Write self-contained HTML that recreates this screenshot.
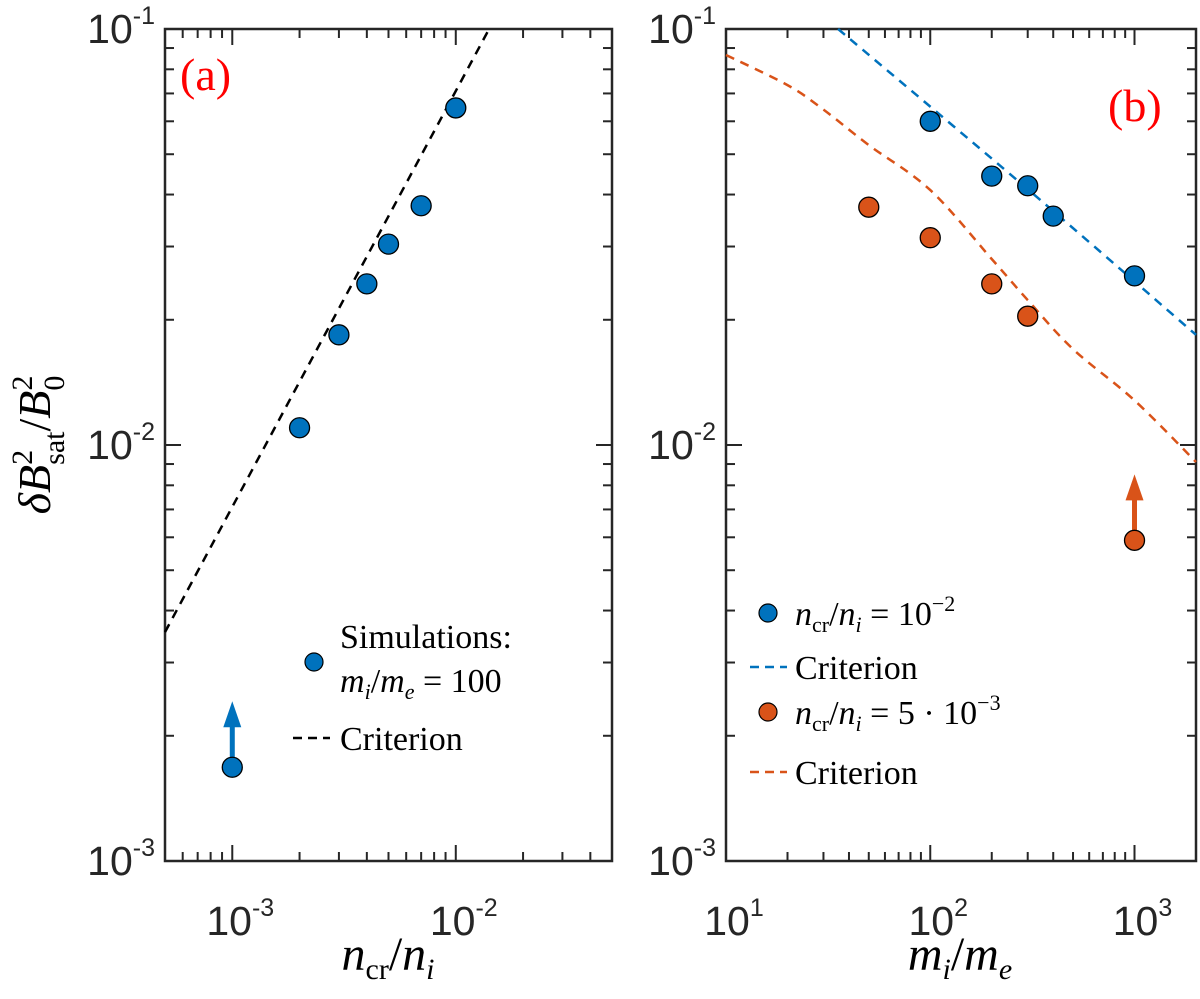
<!DOCTYPE html>
<html><head><meta charset="utf-8"><style>
html,body{margin:0;padding:0;background:#fff;}
svg{display:block;}
.tl{font-family:"Liberation Sans",sans-serif;font-size:41px;fill:#262626;}
.sup{font-size:25px;}
.m{font-family:"Liberation Serif",serif;font-size:34px;fill:#000;}
</style></head><body>
<svg id="fig" width="1200" height="999" viewBox="0 0 1200 999" xmlns="http://www.w3.org/2000/svg">
<text class="m" transform="translate(50,445) rotate(-90)" text-anchor="middle" style="font-size:46px"><tspan font-style="italic">δB</tspan><tspan font-size="30" dy="-18">2</tspan><tspan font-size="30" dx="-15" dy="32">sat</tspan><tspan dy="-14">/</tspan><tspan font-style="italic">B</tspan><tspan font-size="30" dy="-18">2</tspan><tspan font-size="30" dx="-15" dy="32">0</tspan></text>
<text class="m" x="388" y="970" text-anchor="middle" style="font-size:48px"><tspan font-style="italic">n</tspan><tspan font-size="30" dy="9">cr</tspan><tspan dy="-9">/</tspan><tspan font-style="italic">n</tspan><tspan font-size="30" font-style="italic" dy="9">i</tspan></text>
<text class="m" x="960" y="970" text-anchor="middle" style="font-size:48px"><tspan font-style="italic">m</tspan><tspan font-size="30" font-style="italic" dy="9">i</tspan><tspan dy="-9">/</tspan><tspan font-style="italic">m</tspan><tspan font-size="30" font-style="italic" dy="9">e</tspan></text>
<text class="m" x="180" y="90" style="fill:#f00;font-size:46px">(a)</text>
<text class="m" x="1108" y="121" style="fill:#f00;font-size:46px">(b)</text>
<circle cx="314" cy="662" r="9" fill="#0072BD" stroke="#000" stroke-width="1.2"/>
<text class="m" x="340" y="648">Simulations:</text>
<text class="m" x="340" y="692"><tspan font-style="italic">m</tspan><tspan font-size="22" font-style="italic" dy="7">i</tspan><tspan dy="-7">/</tspan><tspan font-style="italic">m</tspan><tspan font-size="22" font-style="italic" dy="7">e</tspan><tspan dy="-7"> = 100</tspan></text>
<line x1="293" y1="738" x2="330" y2="738" stroke="#000" stroke-width="2.5" stroke-dasharray="9,6"/>
<text class="m" x="340" y="750">Criterion</text>
<circle cx="768" cy="613" r="9" fill="#0072BD" stroke="#000" stroke-width="1.2"/>
<text class="m" x="795" y="625"><tspan font-style="italic">n</tspan><tspan font-size="22" dy="7">cr</tspan><tspan dy="-7">/</tspan><tspan font-style="italic">n</tspan><tspan font-size="22" font-style="italic" dy="7">i</tspan><tspan dy="-7"> = 10</tspan><tspan font-size="22" dy="-14">−2</tspan></text>
<line x1="750" y1="667" x2="787" y2="667" stroke="#0072BD" stroke-width="2.5" stroke-dasharray="9,6"/>
<text class="m" x="795" y="679">Criterion</text>
<circle cx="768" cy="712" r="9" fill="#D95319" stroke="#000" stroke-width="1.2"/>
<text class="m" x="795" y="724"><tspan font-style="italic">n</tspan><tspan font-size="22" dy="7">cr</tspan><tspan dy="-7">/</tspan><tspan font-style="italic">n</tspan><tspan font-size="22" font-style="italic" dy="7">i</tspan><tspan dy="-7"> = 5 · 10</tspan><tspan font-size="22" dy="-14">−3</tspan></text>
<line x1="750" y1="772" x2="787" y2="772" stroke="#D95319" stroke-width="2.5" stroke-dasharray="9,6"/>
<text class="m" x="795" y="784">Criterion</text>
</svg>
<script>
// Panel (a) data
const aSimX = [2e-3, 3e-3, 4e-3, 5e-3, 7e-3, 1e-2];
const aSimY = [0.011, 0.0184, 0.0244, 0.0304, 0.0376, 0.0646];
const aLowX = [1e-3];
const aLowY = [0.00168];
const aCritX = [5e-4, 1.41e-2];
const aCritY = [3.55e-3, 0.1];
// Panel (b) data
const bBlueX = [100, 200, 300, 400, 1000];
const bBlueY = [0.06, 0.0443, 0.042, 0.0355, 0.0255];
const bOrangeX = [50, 100, 200, 300];
const bOrangeY = [0.0373, 0.0315, 0.0244, 0.0204];
const bOrangeLowX = [1000];
const bOrangeLowY = [0.0059];
const bBlueCritX = [35.4, 300, 2000];
const bBlueCritY = [0.1, 0.0412, 0.0184];
const bOrangeCritX = [10, 20, 30, 50, 100, 200, 300, 500, 1000, 2000];
const bOrangeCritY = [0.0866, 0.0733, 0.064, 0.0526, 0.041, 0.028, 0.0223, 0.017, 0.0128, 0.0091];
const yTickLabels = ["-3", "-2", "-1"];
const aXTickLabels = ["-3", "-2"];
const bXTickLabels = ["1", "2", "3"];

const NS = "http://www.w3.org/2000/svg";
const svg = document.getElementById('fig');
const TOP = 29, BOT = 861;
const yMin = -3, yMax = -1;
function Y(v){ return BOT - (Math.log10(v) - yMin) / (yMax - yMin) * (BOT - TOP); }
const pa = {l:165, r:612, xmin:Math.log10(5e-4), xmax:Math.log10(5e-2)};
const pb = {l:726, r:1196, xmin:1, xmax:Math.log10(2000)};
function X(p, v){ return p.l + (Math.log10(v) - p.xmin) / (p.xmax - p.xmin) * (p.r - p.l); }
function mk(tag, attrs){ const e = document.createElementNS(NS, tag); for (const k in attrs) e.setAttribute(k, attrs[k]); svg.appendChild(e); return e; }

function axes(p, key, xLabels){
  const box = mk('rect', {x:p.l, y:TOP, width:p.r-p.l, height:BOT-TOP, fill:'none', stroke:'#262626', 'stroke-width':2.5});
  
  
  for (let d = yMin; d <= yMax; d++){
    for (let m = 1; m <= 9; m++){
      const v = m * Math.pow(10, d);
      if (Math.log10(v) > yMax + 1e-9) break;
      const y = Y(v), len = m === 1 ? 16 : 9;
      const t1 = mk('line', {x1:p.l, y1:y, x2:p.l+len, y2:y, stroke:'#262626', 'stroke-width':2});
      
      
      const t2 = mk('line', {x1:p.r, y1:y, x2:p.r-len, y2:y, stroke:'#262626', 'stroke-width':2});
      
      
    }
  }
  yTickLabels.forEach(function(s){
    const y = Y(Math.pow(10, +s));
    const t = mk('text', {x:p.l-10, y:y+14, 'text-anchor':'end', class:'tl'});
    
    
    t.innerHTML = '10<tspan class="sup" dy="-19">' + s + '</tspan>';
  });
  for (let d = Math.floor(p.xmin); d <= Math.ceil(p.xmax); d++){
    for (let m = 1; m <= 9; m++){
      const lv = Math.log10(m) + d;
      if (lv < p.xmin - 1e-9 || lv > p.xmax + 1e-9) continue;
      const x = X(p, Math.pow(10, lv)), len = m === 1 ? 16 : 9;
      const t1 = mk('line', {x1:x, y1:BOT, x2:x, y2:BOT-len, stroke:'#262626', 'stroke-width':2});
      
      
      const t2 = mk('line', {x1:x, y1:TOP, x2:x, y2:TOP+len, stroke:'#262626', 'stroke-width':2});
      
      
    }
  }
  xLabels.forEach(function(s){
    const x = X(p, Math.pow(10, +s));
    const t = mk('text', {x:x+8, y:BOT+74, 'text-anchor':'middle', class:'tl'});
    
    
    t.innerHTML = '10<tspan class="sup" dy="-19">' + s + '</tspan>';
  });
}
axes(pa, 'a', aXTickLabels);
axes(pb, 'b', bXTickLabels);

function dashLine(p, xs, ys, color, name){
  const pts = xs.map(function(x, i){ return [X(p, x), Y(ys[i])]; });
  let d = 'M' + pts[0][0].toFixed(1) + ',' + pts[0][1].toFixed(1);
  for (let i = 0; i < pts.length - 1; i++){
    const p0 = pts[Math.max(i-1, 0)], p1 = pts[i], p2 = pts[i+1], p3 = pts[Math.min(i+2, pts.length-1)];
    const c1 = [p1[0] + (p2[0]-p0[0])/6, p1[1] + (p2[1]-p0[1])/6];
    const c2 = [p2[0] - (p3[0]-p1[0])/6, p2[1] - (p3[1]-p1[1])/6];
    d += 'C' + c1.map(v=>v.toFixed(1)).join(',') + ' ' + c2.map(v=>v.toFixed(1)).join(',') + ' ' + p2.map(v=>v.toFixed(1)).join(',');
  }
  const e = mk('path', {d:d, fill:'none', stroke:color, 'stroke-width':2.5, 'stroke-dasharray':'9,7'});
  
  
}
function dots(p, xs, ys, color, name){
  for (let i = 0; i < xs.length; i++){
    const c = mk('circle', {cx:X(p, xs[i]), cy:Y(ys[i]), r:10, fill:color, stroke:'#000', 'stroke-width':1.3});
    
    
  }
}
function arrows(p, xs, ys, color, name){
  for (let i = 0; i < xs.length; i++){
    const x = X(p, xs[i]), y = Y(ys[i]);
    const l = mk('line', {x1:x, y1:y-8, x2:x, y2:y-42, stroke:color, 'stroke-width':5});
    
    
    const h = mk('polygon', {points:(x-9)+','+(y-40)+' '+(x+9)+','+(y-40)+' '+x+','+(y-66), fill:color});
    
    
  }
}
dashLine(pa, aCritX, aCritY, '#000', 'criterion-line-a');
arrows(pa, aLowX, aLowY, '#0072BD', 'lower-bound-arrow-a');
dots(pa, aSimX, aSimY, '#0072BD', 'simulation-point-a');
dots(pa, aLowX, aLowY, '#0072BD', 'lower-bound-point-a');
dashLine(pb, bBlueCritX, bBlueCritY, '#0072BD', 'criterion-line-blue');
dashLine(pb, bOrangeCritX, bOrangeCritY, '#D95319', 'criterion-line-orange');
arrows(pb, bOrangeLowX, bOrangeLowY, '#D95319', 'lower-bound-arrow-b');
dots(pb, bBlueX, bBlueY, '#0072BD', 'simulation-point-blue');
dots(pb, bOrangeX, bOrangeY, '#D95319', 'simulation-point-orange');
dots(pb, bOrangeLowX, bOrangeLowY, '#D95319', 'lower-bound-point-b');
</script>
</body></html>
